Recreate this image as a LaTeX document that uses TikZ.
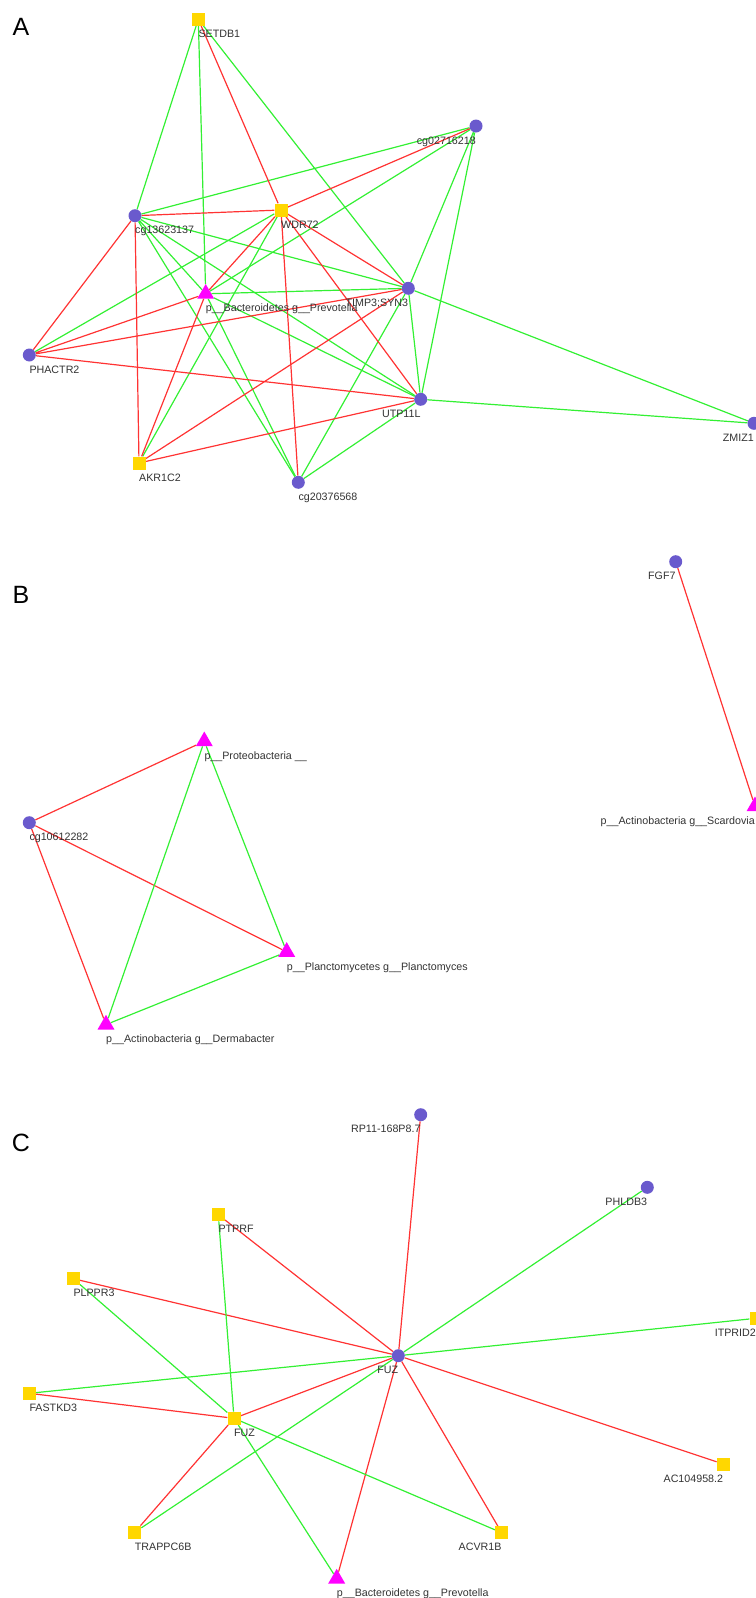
\documentclass[tikz,border=0pt]{standalone}
\usepackage{fontspec}
\setmainfont{Liberation Sans}
\usetikzlibrary{shapes.geometric, backgrounds}
\definecolor{dotcol}{HTML}{6A5ACD}
\definecolor{sqcol}{HTML}{FFD700}
\definecolor{tricol}{HTML}{FF00FF}
\definecolor{corpos}{HTML}{33F033}
\definecolor{corneg}{HTML}{FF3333}
\definecolor{txt}{HTML}{333333}

\begin{document}
\begin{tikzpicture}[x=1pt, y=1pt,
      dotnode/.style={circle, fill=dotcol, minimum size=13pt, inner sep=0pt},
      sqnode/.style={rectangle, fill=sqcol, minimum size=13pt, inner sep=0pt},
      trinode/.style={regular polygon, regular polygon sides=3, fill=tricol, minimum size=19.6pt,
                      inner sep=0pt},
      every label/.style={font=\fontsize{10.7}{12}\selectfont, text=txt, inner sep=0pt,
                          text height=7.6pt, text depth=0pt},
      labr/.style={label={[anchor=west, yshift=-7.5pt]-90:#1}},
      labl/.style={label={[anchor=east, yshift=-7.5pt]-90:#1}},
      trilabr/.style={label={[anchor=west, yshift=-9.2pt]-90:#1}},
      trilabl/.style={label={[anchor=east, yshift=-9.2pt]-90:#1}},
      panel/.style={font=\fontsize{25}{30}\selectfont, inner sep=0pt},
      poscor/.style={draw=corpos, line width=1.2pt},
      negcor/.style={draw=corneg, line width=1.2pt}]
    \useasboundingbox (0,0) rectangle (755,-1598);

    \node[panel] (pa) at (21,-26.7) {A};
    \node[sqnode, labr=SETDB1] (setdb) at (198.3,-19.3) {};
    \node[dotnode, labl=cg02716218] (cgb) at (476,-126) {};
    \node[dotnode, labr=cg13623137] (cga) at (135,-215.7) {};
    \node[sqnode, labr=WDR72] (wdr) at (281,-210) {};
    \node[trinode, trilabr={p\_\_Bacteroidetes g\_\_Prevotella}] (prevA) at (205.7,-293.8) {};
    \node[dotnode, labl={TIMP3;SYN3}] (timp) at (408.3,-288.3) {};
    \node[dotnode, labr=PHACTR2] (phactr) at (29.3,-355) {};
    \node[dotnode, labl=UTP11L] (utp) at (420.7,-399.3) {};
    \node[dotnode, labl=ZMIZ1] (zmiz) at (754,-423.3) {};
    \node[sqnode, labr=AKR1C2] (akr) at (139,-463) {};
    \node[dotnode, labr=cg20376568] (cgc) at (298.3,-482.3) {};

    \node[panel] (pb) at (21,-594.7) {B};
    \node[trinode, trilabr={p\_\_Proteobacteria \_\_}] (proteo) at (204.3,-741.3) {};
    \node[dotnode, labr=cg10612282] (cgd) at (29.3,-822.7) {};
    \node[trinode, trilabr={p\_\_Planctomycetes g\_\_Planctomyces}] (plancto) at (286.7,-951.9) {};
    \node[trinode, trilabr={p\_\_Actinobacteria g\_\_Dermabacter}] (derma) at (106,-1024.6) {};
    \node[dotnode, labl=FGF7] (fgf) at (675.7,-561.7) {};
    \node[trinode, trilabl={p\_\_Actinobacteria g\_\_Scardovia}] (scardo) at (755,-806.3) {};

    \node[panel] (pc) at (21,-1143.3) {C};
    \node[dotnode, labl=RP11-168P8.7] (rp) at (420.7,-1114.7) {};
    \node[dotnode, labl=PHLDB3] (phldb) at (647.3,-1187.3) {};
    \node[sqnode, labl=ITPRID2] (itprid) at (756,-1318.3) {};
    \node[sqnode, labr=PTPRF] (ptprf) at (218.3,-1214.7) {};
    \node[sqnode, labr=PLPPR3] (plppr) at (73.3,-1278.7) {};
    \node[sqnode, labr=FASTKD3] (fastkd) at (29.3,-1393.3) {};
    \node[dotnode, labl=FUZ] (fuzc) at (398.3,-1355.7) {};
    \node[sqnode, labr=FUZ] (fuzs) at (234,-1418.3) {};
    \node[sqnode, labl=AC104958.2] (acx) at (723.3,-1464) {};
    \node[sqnode, labr=TRAPPC6B] (trappc) at (134.7,-1532.3) {};
    \node[sqnode, labl=ACVR1B] (acvr) at (501.7,-1532.7) {};
    \node[trinode, trilabr={p\_\_Bacteroidetes g\_\_Prevotella}] (prevC) at (336.7,-1578.6) {};

    \begin{scope}[on background layer]
      \draw[poscor] (setdb)--(cga) (setdb)--(prevA) (setdb)--(timp);
      \draw[poscor] (cgb)--(cga) (cgb)--(prevA) (cgb)--(timp) (cgb)--(utp);
      \draw[poscor] (cga)--(timp) (cga)--(utp) (cga)--(cgc) (cga)--(prevA);
      \draw[poscor] (wdr)--(phactr) (wdr)--(akr);
      \draw[poscor] (prevA)--(timp) (prevA)--(utp) (prevA)--(cgc);
      \draw[poscor] (timp)--(utp) (timp)--(zmiz) (timp)--(cgc);
      \draw[poscor] (utp)--(zmiz) (utp)--(cgc);
      \draw[negcor] (setdb)--(wdr) (cgb)--(wdr);
      \draw[negcor] (cga)--(wdr) (cga)--(phactr) (cga)--(akr);
      \draw[negcor] (wdr)--(prevA) (wdr)--(timp) (wdr)--(utp) (wdr)--(cgc);
      \draw[negcor] (phactr)--(prevA) (phactr)--(timp) (phactr)--(utp);
      \draw[negcor] (akr)--(prevA) (akr)--(timp) (akr)--(utp);

      \draw[negcor] (cgd)--(proteo) (cgd)--(plancto) (cgd)--(derma);
      \draw[poscor] (proteo)--(derma) (proteo)--(plancto) (plancto)--(derma);
      \draw[negcor] (fgf)--(scardo);

      \draw[negcor] (fuzc)--(rp) (fuzc)--(ptprf) (fuzc)--(plppr) (fuzc)--(fuzs);
      \draw[negcor] (fuzc)--(prevC) (fuzc)--(acvr) (fuzc)--(acx);
      \draw[poscor] (fuzc)--(phldb) (fuzc)--(itprid) (fuzc)--(fastkd) (fuzc)--(trappc);
      \draw[poscor] (fuzs)--(ptprf) (fuzs)--(plppr) (fuzs)--(prevC) (fuzs)--(acvr);
      \draw[negcor] (fuzs)--(fastkd) (fuzs)--(trappc);
    \end{scope}
  \end{tikzpicture}
\end{document}
